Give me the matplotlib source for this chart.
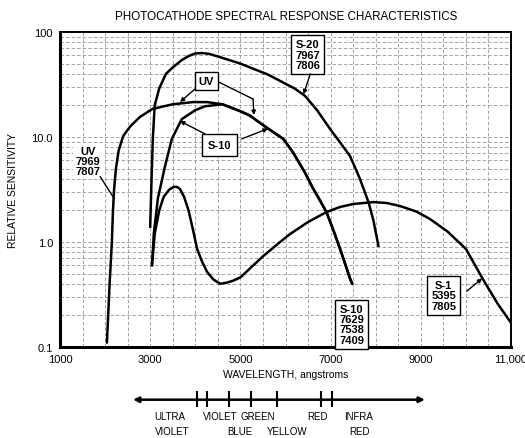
import numpy as np
import matplotlib
matplotlib.use('Agg')
import matplotlib.pyplot as plt
from matplotlib import font_manager
from matplotlib.ticker import MultipleLocator, LogLocator, NullFormatter

# curve data (wavelength in angstroms, relative sensitivity)
uv_wl = [2040, 2100, 2150, 2175, 2200, 2240, 2300, 2400, 2550, 2770, 3050, 3500, 3950, 4260]
uv_val = [0.11, 0.4, 1.0, 2.0, 3.2, 5.0, 7.4, 10.2, 12.5, 15.5, 18.5, 20.5, 21.5, 21.5]

s10_wl = [3040, 3080, 3170, 3330, 3480, 3700, 4000, 4210]
s10_val = [0.6, 1.2, 2.6, 5.3, 9.6, 14.8, 18.0, 19.6]

# UV and S-10 run together on the long wavelength side
tail_wl = [4600, 4800, 5000, 5210, 5500, 5720, 5950, 6160, 6430, 6600, 6750, 6910, 7060, 7210, 7430, 7480]
tail_val = [20.5, 19.0, 17.6, 16.0, 13.0, 11.2, 9.6, 7.2, 4.6, 3.3, 2.55, 1.92, 1.3, 0.86, 0.45, 0.4]

s20_wl = [3000, 3030, 3060, 3100, 3200, 3350, 3500, 3700, 3850, 4000, 4150, 4300, 4500, 5000, 5210,
          5600, 5950, 6200, 6430, 6700, 6990, 7200, 7430, 7650, 7840, 7950, 8060]
s20_val = [1.4, 4.0, 10.0, 20.0, 29.0, 40.0, 46.0, 54.0, 59.0, 62.5, 63.0, 62.0, 58.5, 50.0, 46.0,
           39.5, 33.0, 29.0, 24.7, 18.0, 11.9, 9.0, 6.6, 4.0, 2.4, 1.6, 0.92]

s1_wl = [3040, 3100, 3200, 3300, 3420, 3520, 3590, 3660, 3750, 3850, 3950, 4040, 4150, 4260, 4400,
         4550, 4700, 4850, 5000, 5250, 5500, 5880, 6100, 6500, 6900, 7200, 7500, 7950, 8250,
         8540, 8900, 9200, 9600, 10000, 10380, 10700, 11000]
s1_val = [0.6, 1.2, 2.0, 2.7, 3.15, 3.35, 3.35, 3.2, 2.7, 2.0, 1.3, 0.86, 0.65, 0.52, 0.44,
          0.4, 0.41, 0.43, 0.46, 0.58, 0.73, 1.0, 1.19, 1.55, 1.92, 2.15, 2.3, 2.4, 2.35,
          2.2, 1.95, 1.66, 1.25, 0.86, 0.44, 0.26, 0.17]

x_ticks = [1000, 3000, 5000, 7000, 9000, 11000]
x_ticklabels = ['1000', '3000', '5000', '7000', '9000', '11,000']
y_ticks = [0.1, 1, 10, 100]
y_ticklabels = ['0.1', '1.0', '10.0', '100']

# colour band under the axis
band_edges = [4040, 4270, 4750, 5230, 5820, 6780, 7020]
band_top = ['ULTRA', 'VIOLET', 'GREEN', 'RED', 'INFRA']
band_top_wl = [3440, 4550, 5390, 6720, 7630]
band_bottom = ['VIOLET', 'BLUE', 'YELLOW', 'RED']
band_bottom_wl = [3480, 4990, 6030, 7650]

names = {f.name for f in font_manager.fontManager.ttflist}
narrow = 'Liberation Sans Narrow' if 'Liberation Sans Narrow' in names else 'Liberation Sans'
plt.rcParams['font.family'] = ['Liberation Sans', 'DejaVu Sans']

fig = plt.figure(figsize=(5.25, 4.39), dpi=100)
ax = fig.add_axes([60/525, 1 - 348/439, 451/525, 315/439])

lw = 1.8
ax.plot(uv_wl + tail_wl, uv_val + tail_val, color='k', lw=lw, solid_capstyle='round')
ax.plot(s10_wl + tail_wl, s10_val + tail_val, color='k', lw=lw, solid_capstyle='round')
ax.plot(s20_wl, s20_val, color='k', lw=lw)
ax.plot(s1_wl, s1_val, color='k', lw=lw)

ax.set_yscale('log')
ax.set_xlim(1000, 11000)
ax.set_ylim(0.1, 100)
ax.set_xticks(x_ticks, x_ticklabels)
ax.set_yticks(y_ticks, y_ticklabels)
ax.xaxis.set_minor_locator(MultipleLocator(500))
ax.yaxis.set_minor_locator(LogLocator(base=10, subs=np.arange(2, 10)))
ax.yaxis.set_minor_formatter(NullFormatter())
ax.tick_params(which='both', length=0, labelsize=8)
ax.tick_params(axis='x', pad=5)
ax.tick_params(axis='y', pad=5)
for lab in ax.get_xticklabels() + ax.get_yticklabels():
    lab.set_family(narrow)
ax.grid(which='both', color='0.5', lw=0.5, ls=(0, (5, 3)))
for side in ['left', 'bottom']:
    ax.spines[side].set_linewidth(2.2)
for side in ['top', 'right']:
    ax.spines[side].set_linewidth(1.4)

ax.set_xlabel('WAVELENGTH, angstroms', fontsize=7.5, labelpad=4)
fig.text(13/525, 1 - 190/439, 'RELATIVE SENSITIVITY', rotation=90, fontsize=7.5,
         ha='center', va='center')
fig.text(286/525, 1 - 17/439, 'PHOTOCATHODE SPECTRAL RESPONSE CHARACTERISTICS',
         fontsize=8.4, ha='center', va='center')

# curve labels and pointers
box = dict(boxstyle='square,pad=0.35', fc='white', ec='k', lw=1)
tkw = dict(fontsize=8, fontweight='bold', ha='center', va='center', linespacing=1.05)
arr = dict(arrowstyle='-|>', color='k', lw=1, mutation_scale=6, shrinkA=0, shrinkB=0)
line = dict(arrowstyle='-', color='k', lw=1, shrinkA=0, shrinkB=0)

ax.text(1620, 5.9, 'UV\n7969\n7807', bbox=dict(boxstyle='square,pad=0.2', fc='white', ec='none'), **tkw)
ax.annotate('', xy=(2175, 2.7), xytext=(1890, 4.2), arrowprops=line)

ax.text(4240, 34, 'UV', bbox=box, **tkw)
ax.annotate('', xy=(3660, 21.5), xytext=(3990, 28.6), arrowprops=arr)
ax.plot([4480, 5280], [34, 23], color='k', lw=1)
ax.annotate('', xy=(5300, 16.2), xytext=(5280, 23), arrowprops=arr)

ax.text(4530, 8.4, 'S-10', bbox=dict(boxstyle='square,pad=0.5', fc='white', ec='k', lw=1), **tkw)
ax.annotate('', xy=(3660, 14.2), xytext=(4215, 10.7), arrowprops=arr)
ax.annotate('', xy=(5610, 12.0), xytext=(5030, 9.6), arrowprops=arr)

ax.text(6490, 61, 'S-20\n7967\n7806', bbox=box, **tkw)
ax.annotate('', xy=(6400, 25.5), xytext=(6550, 40), arrowprops=arr)

ax.text(7470, 0.165, 'S-10\n7629\n7538\n7409', bbox=box, **tkw)

ax.text(9510, 0.31, 'S-1\n5395\n7805', bbox=box, **tkw)
ax.annotate('', xy=(10360, 0.45), xytext=(10020, 0.34), arrowprops=arr)

# spectrum scale below the chart, sharing the wavelength range
ax2 = fig.add_axes([60/525, 0, 451/525, 59/439])
ax2.set_xlim(1000, 11000)
ax2.set_ylim(439, 380)
ax2.axis('off')
ax2.annotate('', xy=(9090, 400.7), xytext=(2620, 400.7),
             arrowprops=dict(arrowstyle='<|-|>', color='k', lw=1.8, mutation_scale=8,
                             shrinkA=0, shrinkB=0))
ax2.vlines(band_edges, 392, 408, color='k', lw=1.5)
for name, wl in zip(band_top, band_top_wl):
    ax2.text(wl, 416.7, name, fontsize=7, ha='center', va='center')
for name, wl in zip(band_bottom, band_bottom_wl):
    ax2.text(wl, 431.7, name, fontsize=7, ha='center', va='center')

fig.savefig('out.png', dpi=100)
